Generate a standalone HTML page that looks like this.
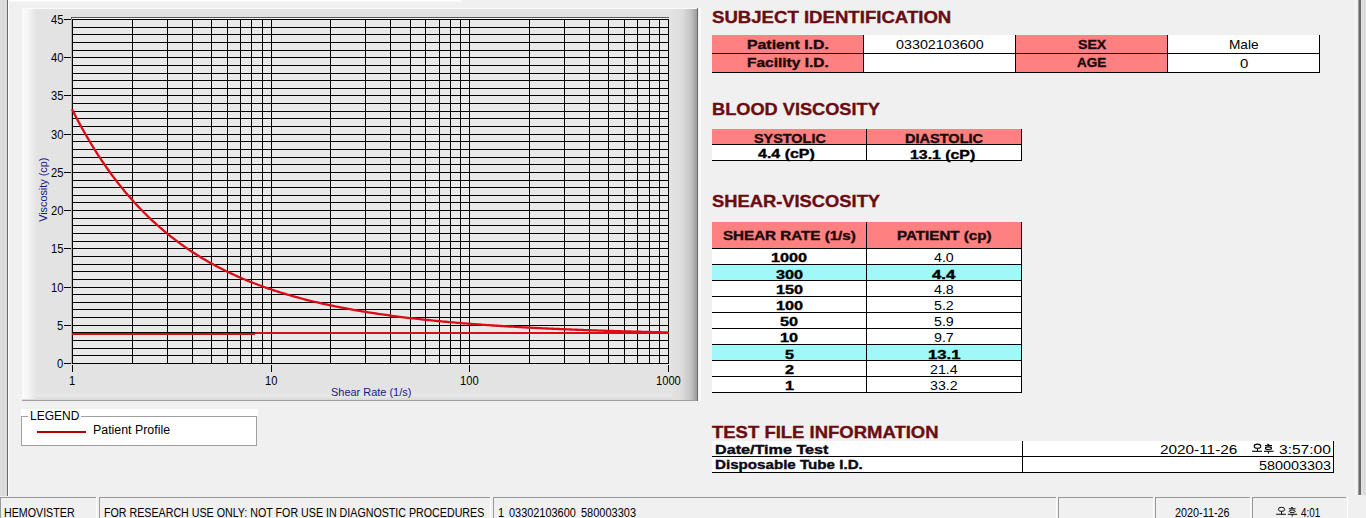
<!DOCTYPE html>
<html><head><meta charset="utf-8"><title>Hemovister</title>
<style>
html,body{margin:0;padding:0;}
body{width:1366px;height:518px;overflow:hidden;background:#f0f0f0;position:relative;font-family:"Liberation Sans",sans-serif;}
.a{position:absolute}
.t{position:absolute;white-space:pre;line-height:1;transform-origin:0 0;font-family:"Liberation Sans",sans-serif}
.sal{background:#ff8080}
.cy{background:#a0f8f8}
.wh{background:#fff}
.k{background:#000}
</style></head><body>
<!-- window frame strips -->
<div class="a" style="left:0;top:0;width:7px;height:496px;background:#dedede"></div>
<div class="a" style="left:3px;top:0;width:1px;height:496px;background:#d6d6d6"></div>
<div class="a" style="left:7px;top:0;width:1px;height:496px;background:#696969"></div>
<div class="a" style="left:8px;top:0;width:1px;height:496px;background:#fff"></div>
<div class="a" style="left:9px;top:0;width:452px;height:1px;background:#fff"></div>
<div class="a" style="left:9px;top:1px;width:452px;height:1px;background:#f8f8f8"></div>
<div class="a" style="left:1355px;top:0;width:1px;height:495px;background:#f8f8f8"></div>
<div class="a" style="left:1358px;top:0;width:1px;height:495px;background:#a0a0a0"></div>
<div class="a" style="left:1359px;top:0;width:2px;height:495px;background:#696969"></div>
<div class="a" style="left:1361px;top:0;width:5px;height:495px;background:#e0e0e0"></div>
<div class="a" style="left:1364px;top:0;width:1px;height:495px;background:#d8d8d8"></div>

<!-- chart panel -->
<div class="a" style="left:22px;top:8px;width:676px;height:393px;background:#e3e3e3"></div>
<div class="a" style="left:22px;top:392px;width:675px;height:8px;background:linear-gradient(to bottom,#e3e3e3 0,#e9e9e9 50%,#d8d8d8 100%)"></div>
<div class="a" style="left:22px;top:8px;width:14px;height:391px;background:linear-gradient(to right,#fbfbfb 0,#f6f6f6 40%,#e4e4e4 100%)"></div>
<div class="a" style="left:672px;top:8px;width:25px;height:392px;background:linear-gradient(to right,#e3e3e3 0,#dcdcdc 40%,#c4c4c4 75%,#9a9a9a 100%)"></div>
<div class="a" style="left:22px;top:8px;width:676px;height:1px;background:#fafafa"></div>
<div class="a" style="left:22px;top:400px;width:676px;height:1px;background:#a0a0a0"></div>
<div class="a" style="left:697px;top:8px;width:1px;height:393px;background:#6c6c6c"></div>

<svg class="a" style="left:0;top:0" width="1366" height="518" shape-rendering="crispEdges">
<rect x="72" y="19" width="596" height="344" fill="#e9e9e9"/>
<rect x="71" y="17" width="598" height="1" fill="#5a5a5a"/>
<rect x="71" y="17" width="1" height="2" fill="#5a5a5a"/>
<rect x="71" y="19" width="1" height="345" fill="#b4b4b4"/>
<rect x="72" y="18" width="597" height="1" fill="#f4f4f4"/>
<rect x="72" y="363" width="597" height="1" fill="#000"/>
<rect x="72" y="355" width="597" height="1" fill="#000"/>
<rect x="72" y="348" width="597" height="1" fill="#000"/>
<rect x="72" y="340" width="597" height="1" fill="#000"/>
<rect x="72" y="332" width="597" height="1" fill="#000"/>
<rect x="72" y="325" width="597" height="1" fill="#000"/>
<rect x="72" y="317" width="597" height="1" fill="#000"/>
<rect x="72" y="309" width="597" height="1" fill="#000"/>
<rect x="72" y="302" width="597" height="1" fill="#000"/>
<rect x="72" y="294" width="597" height="1" fill="#000"/>
<rect x="72" y="287" width="597" height="1" fill="#000"/>
<rect x="72" y="279" width="597" height="1" fill="#000"/>
<rect x="72" y="271" width="597" height="1" fill="#000"/>
<rect x="72" y="264" width="597" height="1" fill="#000"/>
<rect x="72" y="256" width="597" height="1" fill="#000"/>
<rect x="72" y="248" width="597" height="1" fill="#000"/>
<rect x="72" y="241" width="597" height="1" fill="#000"/>
<rect x="72" y="233" width="597" height="1" fill="#000"/>
<rect x="72" y="225" width="597" height="1" fill="#000"/>
<rect x="72" y="218" width="597" height="1" fill="#000"/>
<rect x="72" y="210" width="597" height="1" fill="#000"/>
<rect x="72" y="202" width="597" height="1" fill="#000"/>
<rect x="72" y="195" width="597" height="1" fill="#000"/>
<rect x="72" y="187" width="597" height="1" fill="#000"/>
<rect x="72" y="180" width="597" height="1" fill="#000"/>
<rect x="72" y="172" width="597" height="1" fill="#000"/>
<rect x="72" y="164" width="597" height="1" fill="#000"/>
<rect x="72" y="157" width="597" height="1" fill="#000"/>
<rect x="72" y="149" width="597" height="1" fill="#000"/>
<rect x="72" y="141" width="597" height="1" fill="#000"/>
<rect x="72" y="134" width="597" height="1" fill="#000"/>
<rect x="72" y="126" width="597" height="1" fill="#000"/>
<rect x="72" y="118" width="597" height="1" fill="#000"/>
<rect x="72" y="111" width="597" height="1" fill="#000"/>
<rect x="72" y="103" width="597" height="1" fill="#000"/>
<rect x="72" y="95" width="597" height="1" fill="#000"/>
<rect x="72" y="88" width="597" height="1" fill="#000"/>
<rect x="72" y="80" width="597" height="1" fill="#000"/>
<rect x="72" y="73" width="597" height="1" fill="#000"/>
<rect x="72" y="65" width="597" height="1" fill="#000"/>
<rect x="72" y="57" width="597" height="1" fill="#000"/>
<rect x="72" y="50" width="597" height="1" fill="#000"/>
<rect x="72" y="42" width="597" height="1" fill="#000"/>
<rect x="72" y="34" width="597" height="1" fill="#000"/>
<rect x="72" y="27" width="597" height="1" fill="#000"/>
<rect x="72" y="19" width="597" height="1" fill="#000"/>
<rect x="72" y="19" width="1" height="345" fill="#000"/>
<rect x="132" y="19" width="1" height="345" fill="#000"/>
<rect x="167" y="19" width="1" height="345" fill="#000"/>
<rect x="192" y="19" width="1" height="345" fill="#000"/>
<rect x="211" y="19" width="1" height="345" fill="#000"/>
<rect x="227" y="19" width="1" height="345" fill="#000"/>
<rect x="240" y="19" width="1" height="345" fill="#000"/>
<rect x="251" y="19" width="1" height="345" fill="#000"/>
<rect x="262" y="19" width="1" height="345" fill="#000"/>
<rect x="271" y="19" width="1" height="345" fill="#000"/>
<rect x="330" y="19" width="1" height="345" fill="#000"/>
<rect x="365" y="19" width="1" height="345" fill="#000"/>
<rect x="390" y="19" width="1" height="345" fill="#000"/>
<rect x="410" y="19" width="1" height="345" fill="#000"/>
<rect x="425" y="19" width="1" height="345" fill="#000"/>
<rect x="439" y="19" width="1" height="345" fill="#000"/>
<rect x="450" y="19" width="1" height="345" fill="#000"/>
<rect x="460" y="19" width="1" height="345" fill="#000"/>
<rect x="469" y="19" width="1" height="345" fill="#000"/>
<rect x="529" y="19" width="1" height="345" fill="#000"/>
<rect x="564" y="19" width="1" height="345" fill="#000"/>
<rect x="589" y="19" width="1" height="345" fill="#000"/>
<rect x="608" y="19" width="1" height="345" fill="#000"/>
<rect x="624" y="19" width="1" height="345" fill="#000"/>
<rect x="637" y="19" width="1" height="345" fill="#000"/>
<rect x="649" y="19" width="1" height="345" fill="#000"/>
<rect x="659" y="19" width="1" height="345" fill="#000"/>
<rect x="668" y="19" width="1" height="345" fill="#000"/>
<rect x="72" y="333" width="183" height="2" fill="#c81616"/>
<rect x="255" y="332" width="414" height="2" fill="#e00c14"/>
<polyline fill="none" stroke="#dc0c16" stroke-width="2.3" shape-rendering="geometricPrecision" points="72.00,109.20 73.99,113.10 75.97,116.93 77.96,120.69 79.95,124.37 81.93,127.98 83.92,131.53 85.91,135.01 87.89,138.42 89.88,141.77 91.87,145.05 93.85,148.28 95.84,151.44 97.83,154.54 99.81,157.59 101.80,160.58 103.79,163.51 105.77,166.39 107.76,169.22 109.75,171.99 111.73,174.71 113.72,177.38 115.71,180.00 117.69,182.58 119.68,185.10 121.67,187.58 123.65,190.01 125.64,192.40 127.63,194.75 129.61,197.05 131.60,199.31 133.59,201.53 135.57,203.71 137.56,205.85 139.55,207.95 141.53,210.02 143.52,212.04 145.51,214.03 147.49,215.99 149.48,217.91 151.47,219.79 153.45,221.64 155.44,223.46 157.43,225.24 159.41,227.00 161.40,228.72 163.39,230.41 165.37,232.07 167.36,233.71 169.35,235.31 171.33,236.89 173.32,238.43 175.31,239.96 177.29,241.45 179.28,242.92 181.27,244.36 183.25,245.78 185.24,247.17 187.23,248.54 189.21,249.89 191.20,251.21 193.19,252.51 195.17,253.79 197.16,255.04 199.15,256.27 201.13,257.49 203.12,258.68 205.11,259.85 207.09,261.00 209.08,262.13 211.07,263.25 213.05,264.34 215.04,265.42 217.03,266.47 219.01,267.51 221.00,268.54 222.99,269.54 224.97,270.53 226.96,271.50 228.95,272.46 230.93,273.40 232.92,274.32 234.91,275.23 236.89,276.12 238.88,277.00 240.87,277.87 242.85,278.72 244.84,279.56 246.83,280.38 248.81,281.19 250.80,281.98 252.79,282.77 254.77,283.54 256.76,284.30 258.75,285.04 260.73,285.78 262.72,286.50 264.71,287.21 266.69,287.91 268.68,288.60 270.67,289.27 272.65,289.94 274.64,290.60 276.63,291.24 278.61,291.88 280.60,292.50 282.59,293.12 284.57,293.72 286.56,294.32 288.55,294.90 290.53,295.48 292.52,296.05 294.51,296.61 296.49,297.16 298.48,297.70 300.47,298.24 302.45,298.76 304.44,299.28 306.43,299.79 308.41,300.29 310.40,300.78 312.39,301.27 314.37,301.75 316.36,302.22 318.35,302.68 320.33,303.14 322.32,303.59 324.31,304.04 326.29,304.47 328.28,304.90 330.27,305.33 332.25,305.74 334.24,306.15 336.23,306.56 338.21,306.96 340.20,307.35 342.19,307.74 344.17,308.12 346.16,308.49 348.15,308.86 350.13,309.23 352.12,309.59 354.11,309.94 356.09,310.29 358.08,310.63 360.07,310.97 362.05,311.31 364.04,311.64 366.03,311.96 368.01,312.28 370.00,312.59 371.99,312.90 373.97,313.21 375.96,313.51 377.95,313.81 379.93,314.10 381.92,314.39 383.91,314.67 385.89,314.95 387.88,315.23 389.87,315.50 391.85,315.77 393.84,316.03 395.83,316.29 397.81,316.55 399.80,316.80 401.79,317.05 403.77,317.30 405.76,317.54 407.75,317.78 409.73,318.02 411.72,318.25 413.71,318.48 415.69,318.71 417.68,318.93 419.67,319.15 421.65,319.37 423.64,319.58 425.63,319.79 427.61,320.00 429.60,320.20 431.59,320.41 433.57,320.61 435.56,320.80 437.55,321.00 439.53,321.19 441.52,321.38 443.51,321.56 445.49,321.75 447.48,321.93 449.47,322.11 451.45,322.28 453.44,322.46 455.43,322.63 457.41,322.80 459.40,322.96 461.39,323.13 463.37,323.29 465.36,323.45 467.35,323.61 469.33,323.76 471.32,323.92 473.31,324.07 475.29,324.22 477.28,324.37 479.27,324.51 481.25,324.66 483.24,324.80 485.23,324.94 487.21,325.08 489.20,325.21 491.19,325.35 493.17,325.48 495.16,325.61 497.15,325.74 499.13,325.87 501.12,326.00 503.11,326.12 505.09,326.24 507.08,326.36 509.07,326.48 511.05,326.60 513.04,326.72 515.03,326.83 517.01,326.95 519.00,327.06 520.99,327.17 522.97,327.28 524.96,327.39 526.95,327.49 528.93,327.60 530.92,327.70 532.91,327.80 534.89,327.90 536.88,328.00 538.87,328.10 540.85,328.20 542.84,328.29 544.83,328.39 546.81,328.48 548.80,328.57 550.79,328.66 552.77,328.75 554.76,328.84 556.75,328.93 558.73,329.02 560.72,329.10 562.71,329.19 564.69,329.27 566.68,329.35 568.67,329.43 570.65,329.51 572.64,329.59 574.63,329.67 576.61,329.75 578.60,329.82 580.59,329.90 582.57,329.97 584.56,330.05 586.55,330.12 588.53,330.19 590.52,330.26 592.51,330.33 594.49,330.40 596.48,330.47 598.47,330.53 600.45,330.60 602.44,330.67 604.43,330.73 606.41,330.79 608.40,330.86 610.39,330.92 612.37,330.98 614.36,331.04 616.35,331.10 618.33,331.16 620.32,331.22 622.31,331.28 624.29,331.33 626.28,331.39 628.27,331.45 630.25,331.50 632.24,331.56 634.23,331.61 636.21,331.66 638.20,331.71 640.19,331.77 642.17,331.82 644.16,331.87 646.15,331.92 648.13,331.97 650.12,332.02 652.11,332.06 654.09,332.11 656.08,332.16 658.07,332.20 660.05,332.25 662.04,332.29 664.03,332.34 666.01,332.38 668.00,332.43"/>
<rect x="64" y="363" width="7" height="1" fill="#000"/>
<rect x="64" y="325" width="7" height="1" fill="#000"/>
<rect x="64" y="287" width="7" height="1" fill="#000"/>
<rect x="64" y="248" width="7" height="1" fill="#000"/>
<rect x="64" y="210" width="7" height="1" fill="#000"/>
<rect x="64" y="172" width="7" height="1" fill="#000"/>
<rect x="64" y="134" width="7" height="1" fill="#000"/>
<rect x="64" y="95" width="7" height="1" fill="#000"/>
<rect x="64" y="57" width="7" height="1" fill="#000"/>
<rect x="64" y="19" width="7" height="1" fill="#000"/>
<rect x="72" y="365" width="1" height="7" fill="#000"/>
<rect x="271" y="365" width="1" height="7" fill="#000"/>
<rect x="469" y="365" width="1" height="7" fill="#000"/>
<rect x="668" y="365" width="1" height="7" fill="#000"/>
</svg>

<!-- legend -->
<div class="a" style="left:21px;top:416px;width:234px;height:28px;background:#fff;border:1px solid #a0a0a0"></div>
<div class="a" style="left:21px;top:409px;width:237px;height:7px;background:#fff"></div>
<div class="a" style="left:28px;top:416px;width:53px;height:1px;background:#fff"></div>
<div class="a" style="left:37px;top:431px;width:49px;height:2px;background:#b00000"></div>
<div class="a" style="left:699px;top:8px;width:2px;height:393px;background:#fafafa"></div>

<!-- subject table -->
<div class="a sal" style="left:712px;top:35px;width:151px;height:37px"></div>
<div class="a wh" style="left:864px;top:35px;width:151px;height:37px"></div>
<div class="a sal" style="left:1016px;top:35px;width:151px;height:37px"></div>
<div class="a wh" style="left:1168px;top:35px;width:151px;height:37px"></div>
<div class="a k" style="left:712px;top:53px;width:608px;height:1px"></div>
<div class="a k" style="left:712px;top:72px;width:608px;height:1px"></div>
<div class="a k" style="left:863px;top:35px;width:1px;height:38px"></div>
<div class="a k" style="left:1015px;top:35px;width:1px;height:38px"></div>
<div class="a k" style="left:1167px;top:35px;width:1px;height:38px"></div>
<div class="a k" style="left:1319px;top:35px;width:1px;height:38px"></div>

<!-- blood viscosity table -->
<div class="a sal" style="left:712px;top:129px;width:309px;height:15px"></div>
<div class="a wh" style="left:712px;top:145px;width:309px;height:15px"></div>
<div class="a k" style="left:712px;top:144px;width:310px;height:1px"></div>
<div class="a k" style="left:712px;top:160px;width:310px;height:1px"></div>
<div class="a k" style="left:866px;top:129px;width:1px;height:32px"></div>
<div class="a k" style="left:1021px;top:129px;width:1px;height:32px"></div>

<!-- shear table -->
<div class="a sal" style="left:712px;top:222px;width:309px;height:26px"></div>
<div class="a wh" style="left:712px;top:249px;width:309px;height:143px"></div>
<div class="a cy" style="left:712px;top:265px;width:309px;height:15px"></div>
<div class="a cy" style="left:712px;top:345px;width:309px;height:15px"></div>
<div class="a k" style="left:712px;top:248px;width:310px;height:1px"></div>
<div class="a k" style="left:712px;top:264px;width:310px;height:1px"></div>
<div class="a k" style="left:712px;top:280px;width:310px;height:1px"></div>
<div class="a k" style="left:712px;top:296px;width:310px;height:1px"></div>
<div class="a k" style="left:712px;top:312px;width:310px;height:1px"></div>
<div class="a k" style="left:712px;top:328px;width:310px;height:1px"></div>
<div class="a k" style="left:712px;top:344px;width:310px;height:1px"></div>
<div class="a k" style="left:712px;top:360px;width:310px;height:1px"></div>
<div class="a k" style="left:712px;top:376px;width:310px;height:1px"></div>
<div class="a k" style="left:712px;top:392px;width:310px;height:1px"></div>
<div class="a k" style="left:866px;top:222px;width:1px;height:171px"></div>
<div class="a k" style="left:1021px;top:222px;width:1px;height:171px"></div>

<!-- test file table -->
<div class="a wh" style="left:712px;top:441px;width:621px;height:31px"></div>
<div class="a k" style="left:712px;top:456px;width:622px;height:1px"></div>
<div class="a k" style="left:712px;top:472px;width:622px;height:1px"></div>
<div class="a k" style="left:1022px;top:441px;width:1px;height:32px"></div>
<div class="a k" style="left:1333px;top:441px;width:1px;height:32px"></div>

<!-- status bar -->
<div class="a" style="left:0;top:497px;width:96px;height:1px;background:#999999"></div>
<div class="a" style="left:99px;top:497px;width:391px;height:1px;background:#999999"></div>
<div class="a" style="left:493px;top:497px;width:563px;height:1px;background:#999999"></div>
<div class="a" style="left:1058px;top:497px;width:95px;height:1px;background:#999999"></div>
<div class="a" style="left:1155px;top:497px;width:95px;height:1px;background:#999999"></div>
<div class="a" style="left:1252px;top:497px;width:94px;height:1px;background:#999999"></div>
<div class="a" style="left:0;top:497px;width:1px;height:21px;background:#999999"></div>
<div class="a" style="left:99px;top:497px;width:1px;height:21px;background:#999999"></div>
<div class="a" style="left:493px;top:497px;width:1px;height:21px;background:#999999"></div>
<div class="a" style="left:1058px;top:497px;width:1px;height:21px;background:#999999"></div>
<div class="a" style="left:1155px;top:497px;width:1px;height:21px;background:#999999"></div>
<div class="a" style="left:1252px;top:497px;width:1px;height:21px;background:#999999"></div>
<div class="a" style="left:96px;top:497px;width:1px;height:21px;background:#fdfdfd"></div>
<div class="a" style="left:490px;top:497px;width:1px;height:21px;background:#fdfdfd"></div>
<div class="a" style="left:1056px;top:497px;width:1px;height:21px;background:#fdfdfd"></div>
<div class="a" style="left:1153px;top:497px;width:1px;height:21px;background:#fdfdfd"></div>
<div class="a" style="left:1250px;top:497px;width:1px;height:21px;background:#fdfdfd"></div>

<div class="a" style="left:1347px;top:497px;width:1px;height:21px;background:#fdfdfd"></div>
<svg class="a" style="left:0;top:0" width="1366" height="518">
<ellipse cx="1257.50" cy="446.20" rx="3.30" ry="2.10" fill="none" stroke="#000" stroke-width="1.1"/>
<line x1="1257.50" y1="448.30" x2="1257.50" y2="451.20" stroke="#000" stroke-width="1.1"/>
<line x1="1252.00" y1="451.30" x2="1262.00" y2="451.30" stroke="#000" stroke-width="1.1"/>
<line x1="1267.30" y1="444.40" x2="1269.20" y2="444.40" stroke="#000" stroke-width="1.1"/>
<line x1="1265.00" y1="445.60" x2="1272.00" y2="445.60" stroke="#000" stroke-width="1.1"/>
<ellipse cx="1268.50" cy="448.20" rx="3.10" ry="1.30" fill="none" stroke="#000" stroke-width="1.1"/>
<line x1="1264.00" y1="451.30" x2="1273.60" y2="451.30" stroke="#000" stroke-width="1.1"/>
<line x1="1268.50" y1="451.30" x2="1268.50" y2="453.60" stroke="#000" stroke-width="1.1"/>
<ellipse cx="1281.54" cy="509.33" rx="3.20" ry="2.04" fill="none" stroke="#000" stroke-width="0.95"/>
<line x1="1281.54" y1="511.37" x2="1281.54" y2="514.18" stroke="#000" stroke-width="0.95"/>
<line x1="1276.20" y1="514.28" x2="1285.90" y2="514.28" stroke="#000" stroke-width="0.95"/>
<line x1="1291.04" y1="507.59" x2="1292.88" y2="507.59" stroke="#000" stroke-width="0.95"/>
<line x1="1288.81" y1="508.75" x2="1295.60" y2="508.75" stroke="#000" stroke-width="0.95"/>
<ellipse cx="1292.21" cy="511.27" rx="3.01" ry="1.26" fill="none" stroke="#000" stroke-width="0.95"/>
<line x1="1287.84" y1="514.28" x2="1297.15" y2="514.28" stroke="#000" stroke-width="0.95"/>
<line x1="1292.21" y1="514.28" x2="1292.21" y2="516.51" stroke="#000" stroke-width="0.95"/>
</svg>
<span class="t" style="left:57.18px;top:358.24px;font-size:12px;font-weight:normal;color:#000;transform:scaleX(0.9300)">0</span>
<span class="t" style="left:57.18px;top:320.24px;font-size:12px;font-weight:normal;color:#000;transform:scaleX(0.9300)">5</span>
<span class="t" style="left:50.98px;top:282.24px;font-size:12px;font-weight:normal;color:#000;transform:scaleX(0.9300)">10</span>
<span class="t" style="left:50.98px;top:243.24px;font-size:12px;font-weight:normal;color:#000;transform:scaleX(0.9300)">15</span>
<span class="t" style="left:50.98px;top:205.24px;font-size:12px;font-weight:normal;color:#000;transform:scaleX(0.9300)">20</span>
<span class="t" style="left:50.98px;top:167.24px;font-size:12px;font-weight:normal;color:#000;transform:scaleX(0.9300)">25</span>
<span class="t" style="left:50.98px;top:129.24px;font-size:12px;font-weight:normal;color:#000;transform:scaleX(0.9300)">30</span>
<span class="t" style="left:50.98px;top:90.24px;font-size:12px;font-weight:normal;color:#000;transform:scaleX(0.9300)">35</span>
<span class="t" style="left:50.98px;top:52.24px;font-size:12px;font-weight:normal;color:#000;transform:scaleX(0.9300)">40</span>
<span class="t" style="left:50.98px;top:14.24px;font-size:12px;font-weight:normal;color:#000;transform:scaleX(0.9300)">45</span>
<span class="t" style="left:69.39px;top:375.44px;font-size:12px;font-weight:normal;color:#000;transform:scaleX(0.9300)">1</span>
<span class="t" style="left:265.29px;top:375.44px;font-size:12px;font-weight:normal;color:#000;transform:scaleX(0.9300)">10</span>
<span class="t" style="left:460.19px;top:375.44px;font-size:12px;font-weight:normal;color:#000;transform:scaleX(0.9300)">100</span>
<span class="t" style="left:656.08px;top:375.44px;font-size:12px;font-weight:normal;color:#000;transform:scaleX(0.9300)">1000</span>
<span class="t" style="left:330.90px;top:386.87px;font-size:11.5px;font-weight:normal;color:#16168c;transform:scaleX(0.9517)">Shear Rate (1/s)</span>
<span class="t" style="left:30.10px;top:409.54px;font-size:12px;font-weight:normal;color:#000;transform:scaleX(0.9988)">LEGEND</span>
<span class="t" style="left:93.10px;top:423.92px;font-size:12.5px;font-weight:normal;color:#000;transform:scaleX(0.9906)">Patient Profile</span>
<span class="t" style="left:711.80px;top:9.13px;font-size:16.5px;font-weight:bold;color:#6a0c12;transform:scaleX(1.1268);-webkit-text-stroke:0.35px #6a0c12">SUBJECT IDENTIFICATION</span>
<span class="t" style="left:712.00px;top:100.93px;font-size:16.5px;font-weight:bold;color:#6a0c12;transform:scaleX(1.1026);-webkit-text-stroke:0.35px #6a0c12">BLOOD VISCOSITY</span>
<span class="t" style="left:711.90px;top:193.03px;font-size:16.5px;font-weight:bold;color:#6a0c12;transform:scaleX(1.1112);-webkit-text-stroke:0.35px #6a0c12">SHEAR-VISCOSITY</span>
<span class="t" style="left:712.20px;top:423.63px;font-size:16.5px;font-weight:bold;color:#6a0c12;transform:scaleX(1.1203);-webkit-text-stroke:0.35px #6a0c12">TEST FILE INFORMATION</span>
<span class="t" style="left:747.10px;top:38.64px;font-size:12px;font-weight:bold;color:#1a0a0a;transform:scaleX(1.3190);-webkit-text-stroke:0.35px #1a0a0a">Patient I.D.</span>
<span class="t" style="left:747.10px;top:57.34px;font-size:12px;font-weight:bold;color:#1a0a0a;transform:scaleX(1.2910);-webkit-text-stroke:0.35px #1a0a0a">Facility I.D.</span>
<span class="t" style="left:896.20px;top:39.17px;font-size:12.2px;font-weight:normal;color:#000;transform:scaleX(1.1749)">03302103600</span>
<span class="t" style="left:1078.05px;top:38.64px;font-size:12px;font-weight:bold;color:#1a0a0a;transform:scaleX(1.1784);-webkit-text-stroke:0.35px #1a0a0a">SEX</span>
<span class="t" style="left:1076.75px;top:57.34px;font-size:12px;font-weight:bold;color:#1a0a0a;transform:scaleX(1.1262);-webkit-text-stroke:0.35px #1a0a0a">AGE</span>
<span class="t" style="left:1228.90px;top:39.17px;font-size:12.2px;font-weight:normal;color:#000;transform:scaleX(1.1203)">Male</span>
<span class="t" style="left:1239.85px;top:57.87px;font-size:12.2px;font-weight:normal;color:#000;transform:scaleX(1.2240)">0</span>
<span class="t" style="left:753.70px;top:132.84px;font-size:12px;font-weight:bold;color:#1a0a0a;transform:scaleX(1.2007);-webkit-text-stroke:0.35px #1a0a0a">SYSTOLIC</span>
<span class="t" style="left:905.30px;top:132.84px;font-size:12px;font-weight:bold;color:#1a0a0a;transform:scaleX(1.2117);-webkit-text-stroke:0.35px #1a0a0a">DIASTOLIC</span>
<span class="t" style="left:758.30px;top:148.34px;font-size:12px;font-weight:bold;color:#000;transform:scaleX(1.3306);-webkit-text-stroke:0.35px #000">4.4 (cP)</span>
<span class="t" style="left:909.70px;top:148.64px;font-size:12px;font-weight:bold;color:#000;transform:scaleX(1.3209);-webkit-text-stroke:0.35px #000">13.1 (cP)</span>
<span class="t" style="left:722.60px;top:229.84px;font-size:12px;font-weight:bold;color:#1a0a0a;transform:scaleX(1.2633);-webkit-text-stroke:0.35px #1a0a0a">SHEAR RATE (1/s)</span>
<span class="t" style="left:897.20px;top:229.84px;font-size:12px;font-weight:bold;color:#1a0a0a;transform:scaleX(1.2632);-webkit-text-stroke:0.35px #1a0a0a">PATIENT (cp)</span>
<span class="t" style="left:771.46px;top:251.64px;font-size:12px;font-weight:bold;color:#000;transform:scaleX(1.3511);-webkit-text-stroke:0.35px #000">1000</span>
<span class="t" style="left:934.11px;top:252.17px;font-size:12.2px;font-weight:normal;color:#000;transform:scaleX(1.1667)">4.0</span>
<span class="t" style="left:775.97px;top:269.14px;font-size:12px;font-weight:bold;color:#000;transform:scaleX(1.3513);-webkit-text-stroke:0.35px #000">300</span>
<span class="t" style="left:932.34px;top:268.97px;font-size:12.2px;font-weight:bold;color:#000;transform:scaleX(1.3756);-webkit-text-stroke:0.35px #000">4.4</span>
<span class="t" style="left:775.97px;top:283.64px;font-size:12px;font-weight:bold;color:#000;transform:scaleX(1.3513);-webkit-text-stroke:0.35px #000">150</span>
<span class="t" style="left:934.11px;top:284.17px;font-size:12.2px;font-weight:normal;color:#000;transform:scaleX(1.1667)">4.8</span>
<span class="t" style="left:775.97px;top:299.64px;font-size:12px;font-weight:bold;color:#000;transform:scaleX(1.3513);-webkit-text-stroke:0.35px #000">100</span>
<span class="t" style="left:934.11px;top:300.17px;font-size:12.2px;font-weight:normal;color:#000;transform:scaleX(1.1667)">5.2</span>
<span class="t" style="left:780.48px;top:315.64px;font-size:12px;font-weight:bold;color:#000;transform:scaleX(1.3503);-webkit-text-stroke:0.35px #000">50</span>
<span class="t" style="left:934.11px;top:316.17px;font-size:12.2px;font-weight:normal;color:#000;transform:scaleX(1.1667)">5.9</span>
<span class="t" style="left:780.48px;top:331.64px;font-size:12px;font-weight:bold;color:#000;transform:scaleX(1.3503);-webkit-text-stroke:0.35px #000">10</span>
<span class="t" style="left:934.11px;top:332.17px;font-size:12.2px;font-weight:normal;color:#000;transform:scaleX(1.1667)">9.7</span>
<span class="t" style="left:784.99px;top:349.14px;font-size:12px;font-weight:bold;color:#000;transform:scaleX(1.3500);-webkit-text-stroke:0.35px #000">5</span>
<span class="t" style="left:927.76px;top:348.97px;font-size:12.2px;font-weight:bold;color:#000;transform:scaleX(1.3687);-webkit-text-stroke:0.35px #000">13.1</span>
<span class="t" style="left:784.99px;top:363.64px;font-size:12px;font-weight:bold;color:#000;transform:scaleX(1.3500);-webkit-text-stroke:0.35px #000">2</span>
<span class="t" style="left:930.16px;top:364.17px;font-size:12.2px;font-weight:normal;color:#000;transform:scaleX(1.1664)">21.4</span>
<span class="t" style="left:784.99px;top:379.64px;font-size:12px;font-weight:bold;color:#000;transform:scaleX(1.3500);-webkit-text-stroke:0.35px #000">1</span>
<span class="t" style="left:930.16px;top:380.17px;font-size:12.2px;font-weight:normal;color:#000;transform:scaleX(1.1664)">33.2</span>
<span class="t" style="left:715.10px;top:443.64px;font-size:12px;font-weight:bold;color:#0a0a14;transform:scaleX(1.3469);-webkit-text-stroke:0.35px #0a0a14">Date/Time Test</span>
<span class="t" style="left:715.10px;top:459.24px;font-size:12px;font-weight:bold;color:#0a0a14;transform:scaleX(1.2617);-webkit-text-stroke:0.35px #0a0a14">Disposable Tube I.D.</span>
<span class="t" style="left:1159.50px;top:444.37px;font-size:12.2px;font-weight:normal;color:#000;transform:scaleX(1.2582)">2020-11-26</span>
<span class="t" style="left:1279.40px;top:444.37px;font-size:12.2px;font-weight:normal;color:#000;transform:scaleX(1.2736)">3:57:00</span>
<span class="t" style="left:1259.10px;top:459.97px;font-size:12.2px;font-weight:normal;color:#000;transform:scaleX(1.1800)">580003303</span>
<span class="t" style="left:4.40px;top:506.84px;font-size:12px;font-weight:normal;color:#000;transform:scaleX(0.8898)">HEMOVISTER</span>
<span class="t" style="left:103.60px;top:506.84px;font-size:12px;font-weight:normal;color:#000;transform:scaleX(0.8893)">FOR RESEARCH USE ONLY: NOT FOR USE IN DIAGNOSTIC PROCEDURES</span>
<span class="t" style="left:497.60px;top:506.84px;font-size:12px;font-weight:normal;color:#000;transform:scaleX(0.9300)">1</span>
<span class="t" style="left:508.90px;top:506.84px;font-size:12px;font-weight:normal;color:#000;transform:scaleX(0.9098)">03302103600</span>
<span class="t" style="left:580.90px;top:506.84px;font-size:12px;font-weight:normal;color:#000;transform:scaleX(0.9155)">580003303</span>
<span class="t" style="left:1175.20px;top:506.84px;font-size:12px;font-weight:normal;color:#000;transform:scaleX(0.9025)">2020-11-26</span>
<span class="t" style="left:1301.40px;top:506.84px;font-size:12px;font-weight:normal;color:#000;transform:scaleX(0.8305)">4:01</span>
<span class="t" style="left:10.31px;top:184.15px;font-size:11.5px;color:#16168c;transform-origin:50% 50%;transform:rotate(-90deg) scaleX(0.9417)">Viscosity (cp)</span>
</body></html>
